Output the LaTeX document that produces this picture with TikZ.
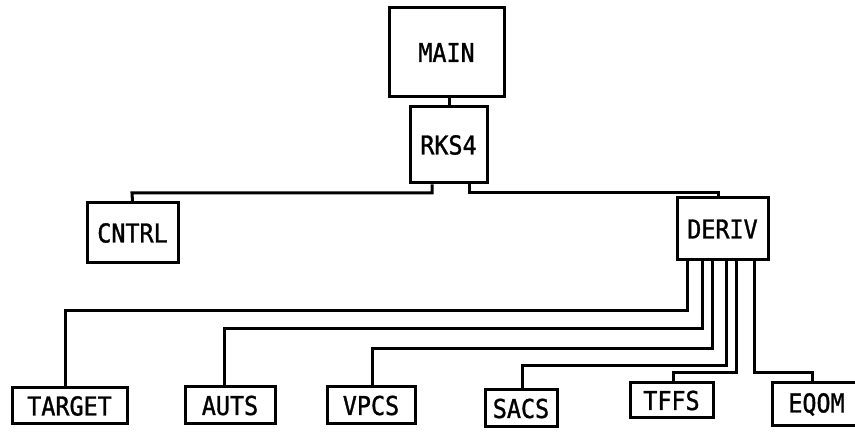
\documentclass[tikz,border=0pt]{standalone}
\usepackage{fontspec}
\newfontfamily\boxfont[FakeStretch=0.9,FakeBold=1.2]{DejaVu Sans Mono}
\usetikzlibrary{calc}
\begin{document}
\begin{tikzpicture}[x=1pt,y=-1pt,
  modbox/.style={draw, line width=3pt, inner sep=0pt, align=center,
    font=\boxfont\fontsize{26}{26}\selectfont},
  link/.style={draw, line width=3pt, line join=miter}]
\useasboundingbox (0,0) rectangle (855,435);
\node[modbox, minimum width=115pt, minimum height=89pt] (main) at (446.5,52.5) {MAIN};
\node[modbox, minimum width=77pt, minimum height=76pt] (rks) at (448.5,145) {RKS4};
\node[modbox, minimum width=91pt, minimum height=60pt] (cntrl) at (132.5,233) {CNTRL};
\node[modbox, minimum width=91pt, minimum height=62pt] (deriv) at (722.5,229) {DERIV};
\node[modbox, minimum width=115pt, minimum height=36pt] (target) at (69.5,406) {TARGET};
\node[modbox, minimum width=90pt, minimum height=37pt] (auts) at (230,405.5) {AUTS};
\node[modbox, minimum width=88pt, minimum height=37pt] (vpcs) at (371,405.5) {VPCS};
\node[modbox, minimum width=72pt, minimum height=37pt] (sacs) at (521,408.5) {SACS};
\node[modbox, minimum width=83pt, minimum height=35pt] (tffs) at (671.5,400.5) {TFFS};
\node[modbox, minimum width=89pt, minimum height=43pt] (eqom) at (816.5,404.5) {EQOM};
% connectors
\draw[link] ([xshift=2.5pt]main.south) -- ([xshift=0.5pt]rks.north);
\draw[link] ([xshift=-16.5pt]rks.south) |- (132,193) -- (cntrl.north);
\draw[link] ([xshift=20.5pt]rks.south) |- (718,193) -- ([xshift=-4.5pt]deriv.north);
\draw[link] ([xshift=-35.5pt]deriv.south) |- (65,311) -- ([xshift=-4.5pt]target.north);
\draw[link] ([xshift=-20.5pt]deriv.south) |- (224,329) -- ([xshift=-6pt]auts.north);
\draw[link] ([xshift=-10.5pt]deriv.south) |- (372,349) -- ([xshift=1pt]vpcs.north);
\draw[link] ([xshift=3.5pt]deriv.south) |- (522,366) -- ([xshift=1pt]sacs.north);
\draw[link] ([xshift=13.5pt]deriv.south) |- (673,373) -- ([xshift=1.5pt]tffs.north);
\draw[link] ([xshift=31.5pt]deriv.south) |- (812,373) -- ([xshift=-4.5pt]eqom.north);
\end{tikzpicture}
\end{document}
